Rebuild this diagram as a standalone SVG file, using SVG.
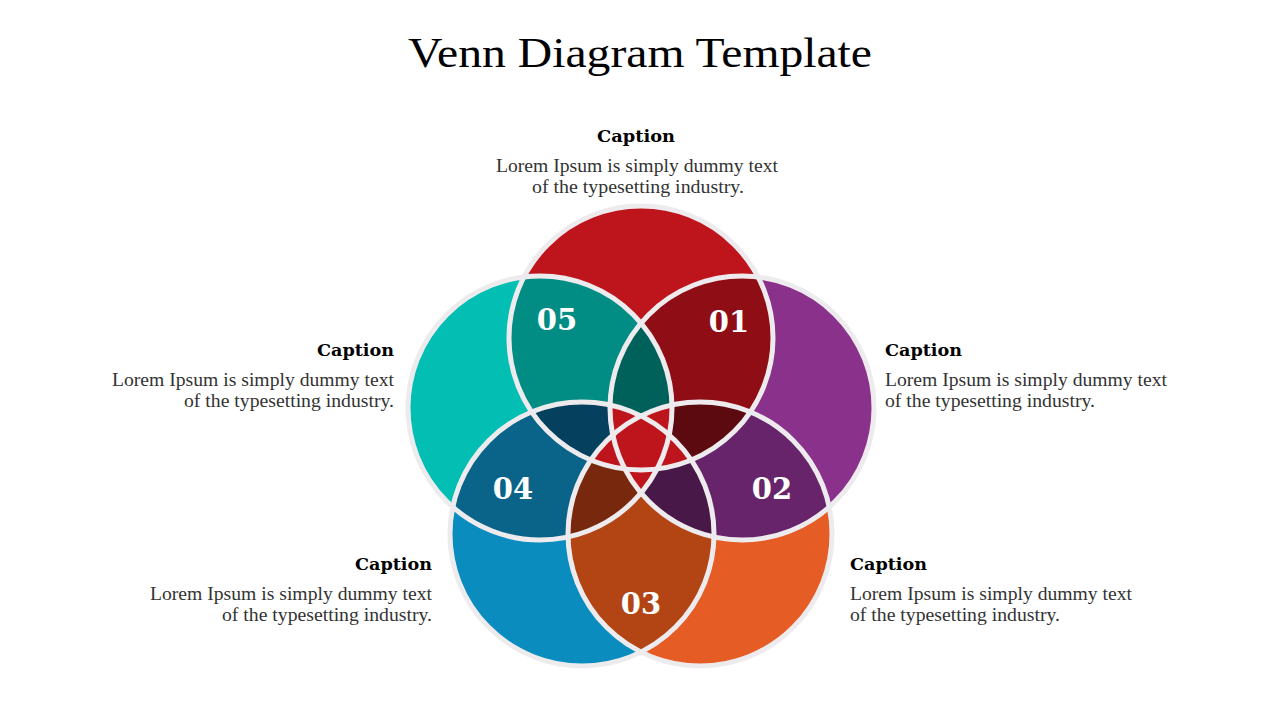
<svg xmlns="http://www.w3.org/2000/svg" xmlns:xlink="http://www.w3.org/1999/xlink" width="1280" height="720" viewBox="0 0 1280 720">
<defs>
  <circle id="R" cx="641" cy="338" r="132"/>
  <circle id="P" cx="742" cy="408" r="132"/>
  <circle id="O" cx="700" cy="534" r="132"/>
  <circle id="B" cx="582" cy="534" r="132"/>
  <circle id="T" cx="540" cy="408" r="132"/>
  <clipPath id="cR"><use href="#R"/></clipPath>
  <clipPath id="cP"><use href="#P"/></clipPath>
  <clipPath id="cO"><use href="#O"/></clipPath>
  <clipPath id="cB"><use href="#B"/></clipPath>
  <clipPath id="cT"><use href="#T"/></clipPath>
</defs>
<style>
  .title{font-family:"Liberation Serif",serif;font-size:42px;fill:#000}
  .cap{font-family:"DejaVu Serif","Liberation Serif",serif;font-weight:bold;font-size:17.5px;fill:#000}
  .body{font-family:"Liberation Serif",serif;font-size:19.5px;fill:#333}
  .num{font-family:"DejaVu Serif","Liberation Serif",serif;font-weight:bold;font-size:29px;fill:#fff;text-anchor:middle}
  .ring{fill:none;stroke:#EEEBEE;stroke-width:5}
</style>
<rect width="1280" height="720" fill="#fff"/>
<text class="title" x="408" y="67" textLength="464" lengthAdjust="spacingAndGlyphs">Venn Diagram Template</text>

<g id="venn">
  <use href="#R" fill="#BE151D"/>
  <use href="#T" fill="#02BEB3"/>
  <use href="#P" fill="#8A318C"/>
  <use href="#B" fill="#0B8CBF"/>
  <use href="#O" fill="#E55C24"/>
  <use href="#T" fill="#028D84" clip-path="url(#cR)"/>
  <use href="#P" fill="#8F0E15" clip-path="url(#cR)"/>
  <use href="#O" fill="#68246A" clip-path="url(#cP)"/>
  <use href="#B" fill="#B34414" clip-path="url(#cO)"/>
  <use href="#T" fill="#0A6489" clip-path="url(#cB)"/>
  <g clip-path="url(#cT)"><use href="#P" fill="#00615A" clip-path="url(#cR)"/></g>
  <g clip-path="url(#cR)"><use href="#O" fill="#5C0910" clip-path="url(#cP)"/></g>
  <g clip-path="url(#cP)"><use href="#B" fill="#481848" clip-path="url(#cO)"/></g>
  <g clip-path="url(#cO)"><use href="#T" fill="#78290D" clip-path="url(#cB)"/></g>
  <g clip-path="url(#cB)"><use href="#R" fill="#05405E" clip-path="url(#cT)"/></g>
  <g clip-path="url(#cR)"><g clip-path="url(#cP)"><use href="#O" fill="#BE151D" clip-path="url(#cB)"/></g></g>
  <g clip-path="url(#cP)"><g clip-path="url(#cO)"><use href="#B" fill="#BE151D" clip-path="url(#cT)"/></g></g>
  <g clip-path="url(#cO)"><g clip-path="url(#cB)"><use href="#T" fill="#BE151D" clip-path="url(#cR)"/></g></g>
  <g clip-path="url(#cB)"><g clip-path="url(#cT)"><use href="#R" fill="#BE151D" clip-path="url(#cP)"/></g></g>
  <g clip-path="url(#cT)"><g clip-path="url(#cR)"><use href="#P" fill="#BE151D" clip-path="url(#cO)"/></g></g>
  <use href="#R" class="ring"/>
  <use href="#P" class="ring"/>
  <use href="#O" class="ring"/>
  <use href="#B" class="ring"/>
  <use href="#T" class="ring"/>
</g>

<g id="n01"><text class="num" x="729" y="332">01</text></g>
<g id="n02"><text class="num" x="772" y="499">02</text></g>
<g id="n03"><text class="num" x="641" y="614">03</text></g>
<g id="n04"><text class="num" x="513" y="499">04</text></g>
<g id="n05"><text class="num" x="557" y="330">05</text></g>

<g id="cap-top" text-anchor="middle">
  <text class="cap" x="636" y="142" textLength="78" lengthAdjust="spacingAndGlyphs">Caption</text>
  <text class="body" x="637" y="172" textLength="282" lengthAdjust="spacingAndGlyphs">Lorem Ipsum is simply dummy text</text>
  <text class="body" x="638" y="193" textLength="212" lengthAdjust="spacingAndGlyphs">of the typesetting industry.</text>
</g>
<g id="cap-left" text-anchor="end">
  <text class="cap" x="394" y="356" textLength="77" lengthAdjust="spacingAndGlyphs">Caption</text>
  <text class="body" x="394" y="386" textLength="282" lengthAdjust="spacingAndGlyphs">Lorem Ipsum is simply dummy text</text>
  <text class="body" x="394" y="407" textLength="210" lengthAdjust="spacingAndGlyphs">of the typesetting industry.</text>
</g>
<g id="cap-right" text-anchor="start">
  <text class="cap" x="885" y="356" textLength="77" lengthAdjust="spacingAndGlyphs">Caption</text>
  <text class="body" x="885" y="386" textLength="282" lengthAdjust="spacingAndGlyphs">Lorem Ipsum is simply dummy text</text>
  <text class="body" x="885" y="407" textLength="210" lengthAdjust="spacingAndGlyphs">of the typesetting industry.</text>
</g>
<g id="cap-bl" text-anchor="end">
  <text class="cap" x="432" y="570" textLength="77" lengthAdjust="spacingAndGlyphs">Caption</text>
  <text class="body" x="432" y="600" textLength="282" lengthAdjust="spacingAndGlyphs">Lorem Ipsum is simply dummy text</text>
  <text class="body" x="432" y="621" textLength="210" lengthAdjust="spacingAndGlyphs">of the typesetting industry.</text>
</g>
<g id="cap-br" text-anchor="start">
  <text class="cap" x="850" y="570" textLength="77" lengthAdjust="spacingAndGlyphs">Caption</text>
  <text class="body" x="850" y="600" textLength="282" lengthAdjust="spacingAndGlyphs">Lorem Ipsum is simply dummy text</text>
  <text class="body" x="850" y="621" textLength="210" lengthAdjust="spacingAndGlyphs">of the typesetting industry.</text>
</g>
</svg>
